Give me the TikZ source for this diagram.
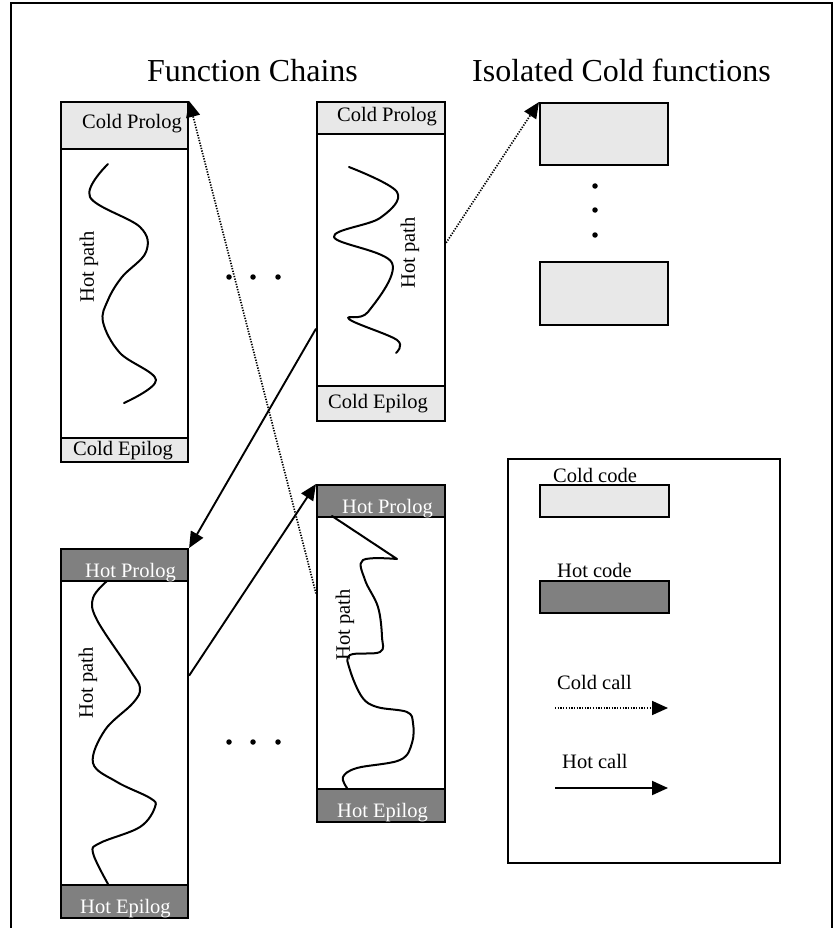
\documentclass[tikz,border=0pt]{standalone}
\usepackage{fontspec}
\setmainfont{Liberation Serif}
\usetikzlibrary{arrows.meta,calc}
\definecolor{coldgray}{HTML}{E8E8E8}
\definecolor{hotgray}{HTML}{808080}
\begin{document}
\begin{tikzpicture}[x=1pt,y=-1pt,
  lbl/.style={font=\fontsize{20.5}{24}\selectfont, inner sep=0pt, anchor=base west},
  hotlbl/.style={lbl, text=white},
  vlbl/.style={font=\fontsize{20.5}{24}\selectfont, inner sep=0pt, rotate=90},
  ttl/.style={font=\fontsize{32}{38}\selectfont, inner sep=0pt, anchor=base west},
  fbox/.style={draw=black, line width=2.1pt, fill=white, inner sep=0pt, anchor=north west},
  coldpart/.style={fbox, fill=coldgray},
  hotpart/.style={fbox, fill=hotgray},
  hotline/.style={line width=2pt, line cap=round, line join=round},
  tip/.style={-{Triangle[length=16pt,width=14pt]}},
  hotcall/.style={line width=1.9pt, tip},
  coldcall/.style={line width=1.7pt, dash pattern=on 1.3pt off 1.4pt, tip},
  frame/.style={line width=2pt},
  dot/.style={circle, fill=black, inner sep=0pt, minimum size=5.5pt}]

\useasboundingbox (0,0) rectangle (835,928);

% outer frame (open at the bottom)
\coordinate (frbl) at (11,940);
\coordinate (frtl) at (11,3);
\coordinate (frtr) at (832,3);
\coordinate (frbr) at (832,940);
\draw[frame] (frbl) -- (frtl) -- (frtr) -- (frbr);

% headings
\node[ttl] (tchains) at (147,82) {Function Chains};
\node[ttl] (tiso) at (472,82) {Isolated Cold functions};

% ---- chain 1, first function (cold prolog/epilog)
\node[fbox, minimum width=127, minimum height=360] (f1) at (60,101) {};
\node[coldpart, minimum width=127, minimum height=47] (f1pro) at (60,101) {};
\node[coldpart, minimum width=127, minimum height=24] (f1epi) at (60,437) {};
\node[lbl] (f1prot) at (82,129) {Cold Prolog};
\node[lbl] (f1epit) at (73,455) {Cold Epilog};
\draw[hotline] plot[smooth, tension=0.6] coordinates {(108,164) (90,197) (140,227) (146,252) (122,277) (108,300) (103,322) (120,353) (156,380) (124,403)};
\node[vlbl] (f1hot) at (89,267) {Hot path};

% ---- chain 2, first function
\node[fbox, minimum width=128, minimum height=319] (f2) at (316,101) {};
\node[coldpart, minimum width=128, minimum height=32] (f2pro) at (316,101) {};
\node[coldpart, minimum width=128, minimum height=35] (f2epi) at (316,385) {};
\node[lbl] (f2prot) at (337,122) {Cold Prolog};
\node[lbl] (f2epit) at (328,408) {Cold Epilog};
\draw[hotline] plot[smooth, tension=0.6] coordinates {(349,167) (397,192) (380,218) (334,237) (392,263) (368,312) (349,319) (397,340) (396,353)};
\node[vlbl] (f2hot) at (410,253) {Hot path};

% ---- isolated cold functions
\node[coldpart, minimum width=128, minimum height=62] (iso1) at (539,102) {};
\node[coldpart, minimum width=128, minimum height=63] (iso2) at (539,261) {};
\node[dot] (idot1) at (595,186) {};
\node[dot] (idot2) at (595,210) {};
\node[dot] (idot3) at (595,235) {};

% ---- chain 1, hot function
\node[fbox, minimum width=127, minimum height=369] (f3) at (60,548) {};
\node[hotpart, minimum width=127, minimum height=32] (f3pro) at (60,548) {};
\node[hotpart, minimum width=127, minimum height=33] (f3epi) at (60,884) {};
\node[hotlbl] (f3prot) at (85,577) {Hot Prolog};
\node[hotlbl] (f3epit) at (80,913) {Hot Epilog};
\draw[hotline] plot[smooth, tension=0.6] coordinates {(107,581) (93,598) (97,620) (130,670) (140,688) (133,703) (105,730) (93,763) (117,782) (150,798) (155,807) (140,827) (100,843) (93,853) (108,884)};
\node[vlbl] (f3hot) at (88,683) {Hot path};

% ---- chain 2, hot function
\node[fbox, minimum width=128, minimum height=337] (f4) at (316,484) {};
\node[hotpart, minimum width=128, minimum height=32] (f4pro) at (316,484) {};
\node[hotpart, minimum width=128, minimum height=33] (f4epi) at (316,788) {};
\node[hotlbl] (f4prot) at (342,513) {Hot Prolog};
\node[hotlbl] (f4epit) at (337,817) {Hot Epilog};
\draw[hotline] (332,516) -- (397,559) -- plot[smooth, tension=0.6] coordinates {(397,559) (363,560) (365,580) (378,607) (382,637) (380,652) (350,655) (350,670) (362,697) (377,707) (407,712) (413,723) (412,743) (400,760) (357,768) (343,777) (347,788)};
\node[vlbl] (f4hot) at (345,625) {Hot path};

% ellipsis between chains
\node[dot] (tdot1) at (229,277) {};
\node[dot] (tdot2) at (253,277) {};
\node[dot] (tdot3) at (278,277) {};
\node[dot] (bdot1) at (229,742) {};
\node[dot] (bdot2) at (253,742) {};
\node[dot] (bdot3) at (278,742) {};

% ---- calls
\draw[coldcall] ($(f4.north west)!0.323!(f4.south west)$) -- (f1.north east);
\draw[coldcall] ($(f2.north east)!0.4416!(f2.south east)$) -- (iso1.north west);
\draw[hotcall] ($(f2.north west)!0.709!(f2.south west)$) -- (f3.north east);
\draw[hotcall] ($(f3.north east)!0.344!(f3.south east)$) -- (f4.north west);

% ---- legend
\node[fbox, minimum width=272, minimum height=404] (leg) at (507,458) {};
\node[coldpart, minimum width=129, minimum height=32] (legcold) at (539,484) {};
\node[lbl] (legcoldt) at (553,482) {Cold code};
\node[hotpart, minimum width=129, minimum height=32] (leghot) at (539,580) {};
\node[lbl] (leghott) at (557,577) {Hot code};
\node[lbl] (legccallt) at (557,689) {Cold call};
\coordinate (lcc0) at (555,708);
\coordinate (lcc1) at (668,708);
\draw[coldcall] (lcc0) -- (lcc1);
\node[lbl] (leghcallt) at (562,768) {Hot call};
\coordinate (lhc0) at (555,788);
\coordinate (lhc1) at (668,788);
\draw[hotcall] (lhc0) -- (lhc1);
\end{tikzpicture}
\end{document}
